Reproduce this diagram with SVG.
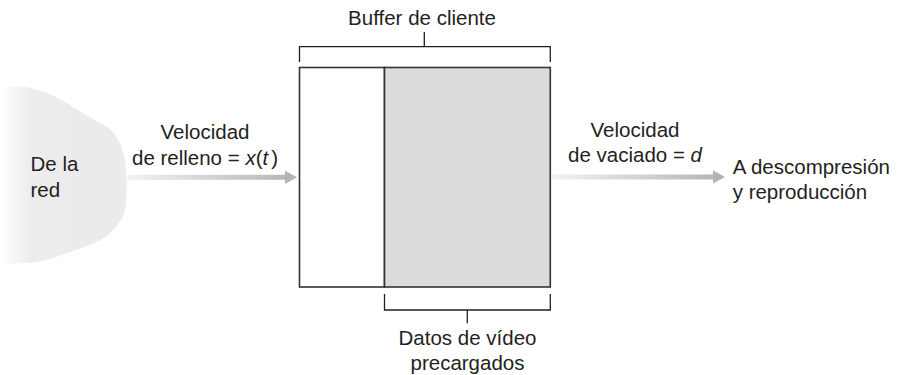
<svg xmlns="http://www.w3.org/2000/svg" width="897" height="375" viewBox="0 0 897 375">
<style>
text{font-family:"Liberation Sans",Arial,sans-serif;font-size:20.5px;fill:#231f20}
.c{text-anchor:middle}
.it{font-style:italic}
.br{fill:none;stroke:#231f20;stroke-width:1.3}
.box{stroke:#333;stroke-width:1.6}
</style>
<defs>
<linearGradient id="cloudG" x1="0" y1="0" x2="1" y2="0" gradientUnits="objectBoundingBox">
<stop offset="0" stop-color="#ffffff"/>
<stop offset="0.25" stop-color="#ececec"/>
<stop offset="1" stop-color="#ebebeb"/>
</linearGradient>
<linearGradient id="arrG1" gradientUnits="userSpaceOnUse" x1="127" y1="0" x2="297" y2="0">
<stop offset="0" stop-color="#f2f2f2"/>
<stop offset="1" stop-color="#b3b3b3"/>
</linearGradient>
<linearGradient id="arrG2" gradientUnits="userSpaceOnUse" x1="552" y1="0" x2="725" y2="0">
<stop offset="0" stop-color="#f2f2f2"/>
<stop offset="1" stop-color="#b3b3b3"/>
</linearGradient>
</defs>
<g id="red">
<path d="M0,86.5 L20,86.7 C32,86.7 52,94 67,103.3 C80,111 95,121 107,127 C118,134 124,150 125.5,165 C127,180 127,198 125,210 C123,220 112,234 100,240 C88,246 65,254 50,259 C38,262 25,263.5 15,263.5 L0,263.5 Z" fill="url(#cloudG)"/>
<text x="30.5" y="170.7">De la</text>
<text x="30.5" y="196.7">red</text>
</g>
<g id="connectors">
<g id="fill-arrow">
<rect x="127" y="174.8" width="159" height="5" fill="url(#arrG1)"/>
<polygon points="285,170.7 297,177.3 285,184" fill="#b3b3b3"/>
<text class="c" x="205" y="139.3">Velocidad</text>
<text class="c" x="205" y="165">de relleno = <tspan class="it">x</tspan>(<tspan class="it">t</tspan><tspan dx="3">)</tspan></text>
</g>
<g id="drain-arrow">
<rect x="552" y="174.5" width="162" height="5" fill="url(#arrG2)"/>
<polygon points="713,170.5 725,177 713,183.5" fill="#b3b3b3"/>
<text class="c" x="635" y="136.7">Velocidad</text>
<text class="c" x="635" y="161.7">de vaciado = <tspan class="it">d</tspan></text>
</g>
</g>
<g id="buffer">
<rect class="box" x="299.5" y="67.5" width="85" height="219.5" fill="#ffffff"/>
<rect class="box" x="384.5" y="67.5" width="165.8" height="219.5" fill="#dcdcdc"/>
</g>
<g id="buffer-label">
<path class="br" d="M299.5,62 V46.7 H550.3 V62 M424.3,46.7 V32"/>
<text class="c" x="422" y="25">Buffer de cliente</text>
</g>
<g id="preloaded-label">
<path class="br" d="M384.5,294 V310 H550.3 V294 M467.3,310 V323.3"/>
<text class="c" x="467.5" y="345">Datos de vídeo</text>
<text class="c" x="467.5" y="369.5">precargados</text>
</g>
<g id="destino">
<text x="732.7" y="173.5">A descompresión</text>
<text x="732.7" y="199">y reproducción</text>
</g>
</svg>
